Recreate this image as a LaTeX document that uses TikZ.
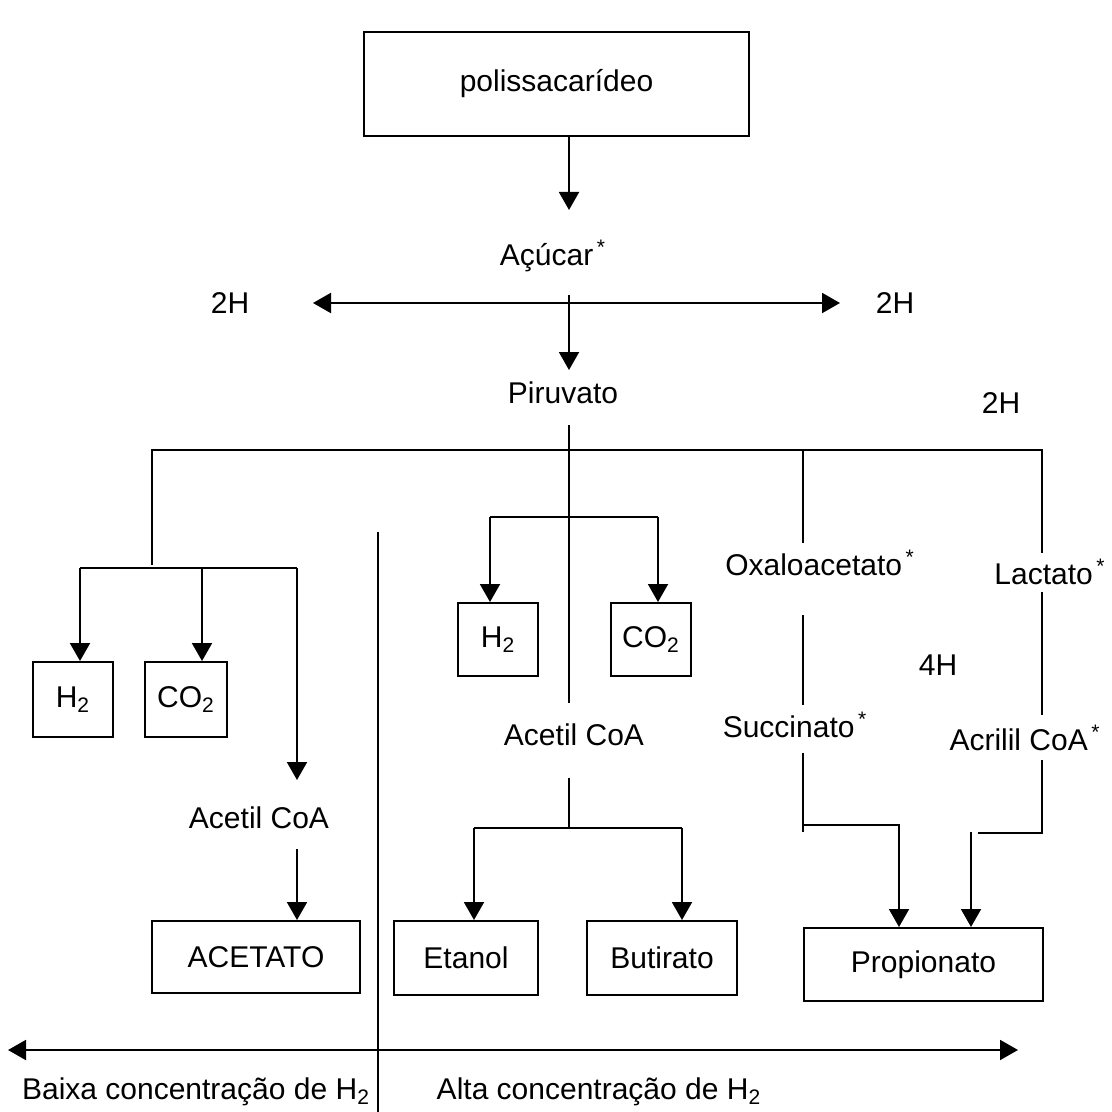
\documentclass[tikz,border=0pt]{standalone}
\usepackage{fontspec}
\setmainfont{Liberation Sans}
\usetikzlibrary{arrows.meta,positioning,calc}
\tikzset{
  box/.style={draw, line width=1pt, inner sep=0pt, font=\fontsize{15}{18}\selectfont},
  txt/.style={inner sep=1pt, font=\fontsize{15}{18}\selectfont},
  wire/.style={line width=1pt},
  arr/.style={wire, -{Triangle[width=10pt,length=9pt]}},
  darr/.style={wire, {Triangle[width=10pt,length=9pt]}-{Triangle[width=10pt,length=9pt]}},
}
\newcommand{\st}{\textsuperscript{\,*}}

\begin{document}
\begin{tikzpicture}[x=0.5pt,y=-0.5pt]
  \useasboundingbox[fill=white] (0,0) rectangle (1112,1112);
  % boxes
  \node[box, minimum width=192.5pt, minimum height=52pt] (polis) at (556.5,84) {polissacarídeo};
  \node[box, minimum width=40pt, minimum height=37.5pt] (h2a) at (73,699.5) {H\textsubscript{2}};
  \node[box, minimum width=41pt, minimum height=37.5pt] (co2a) at (186,699.5) {CO\textsubscript{2}};
  \node[box, minimum width=40pt, minimum height=36.5pt] (h2b) at (498,639.5) {H\textsubscript{2}};
  \node[box, minimum width=40pt, minimum height=36.5pt] (co2b) at (651,639.5) {CO\textsubscript{2}};
  \node[box, minimum width=104pt, minimum height=36pt] (acetato) at (256,957) {ACETATO};
  \node[box, minimum width=72pt, minimum height=37pt] (etanol) at (466,958) {Etanol};
  \node[box, minimum width=75pt, minimum height=37pt] (butirato) at (662,958) {Butirato};
  \node[box, minimum width=119.5pt, minimum height=36.5pt] (propionato) at (923.5,964.5) {Propionato};
  % labels
  \node[txt] (acucar) at (553,256) {Açúcar\st};
  \node[txt] (twoHL) at (230,303) {2H};
  \node[txt] (twoHR) at (895,303) {2H};
  \node[txt] (piruvato) at (563,393) {Piruvato};
  \node[txt] (twoHC) at (1001,403) {2H};
  \node[txt] (acetilL) at (259,818) {Acetil CoA};
  \node[txt] (acetilM) at (574,735) {Acetil CoA};
  \node[txt] (oxalo) at (820,563) {Oxaloacetato\st};
  \node[txt] (lactato) at (1050,572) {Lactato\st};
  \node[txt] (fourH) at (938,665) {4H};
  \node[txt] (succinato) at (795,725) {Succinato\st};
  \node[txt] (acrilil) at (1025,738) {Acrilil CoA\st};
  \node[txt] (baixa) at (196,1092) {Baixa concentração de H\textsubscript{2}};
  \node[txt] (alta) at (599,1092) {Alta concentração de H\textsubscript{2}};
  % main trunk
  \draw[arr] (polis.south -| 569,0) -- (569,210);
  \draw[arr] (569,295) -- (569,370);
  \draw[darr] (313,303) -- (840,303);
  \draw[wire] (569,425) -- (569,703);
  % pyruvate branches
  \draw[wire] (152,565) -- (152,450) -- (1042,450) -- (1042,553);
  \draw[wire] (803,450) -- (803,543);
  % low H2 side
  \draw[wire] (80,568) -- (297,568);
  \draw[arr] (80,568) -- (h2a.north -| 80,0);
  \draw[arr] (202,568) -- (co2a.north -| 202,0);
  \draw[arr] (297,568) -- (297,780);
  \draw[arr] (297,849) -- (acetato.north -| 297,0);
  % high H2 side
  \draw[wire] (490,517) -- (658,517);
  \draw[arr] (490,517) -- (h2b.north -| 490,0);
  \draw[arr] (658,517) -- (co2b.north -| 658,0);
  \draw[wire] (569,778) -- (569,828);
  \draw[wire] (474,828) -- (682,828);
  \draw[arr] (474,828) -- (etanol.north -| 474,0);
  \draw[arr] (682,828) -- (butirato.north -| 682,0);
  % propionate routes
  \draw[wire] (803,615) -- (803,705);
  \draw[wire] (803,753) -- (803,832);
  \draw[arr] (803,825) -| (propionato.north -| 899,0);
  \draw[wire] (1042,592) -- (1042,715);
  \draw[wire] (1042,760) -- (1042,833) -- (978,833);
  \draw[arr] (971,832) -- (propionato.north -| 971,0);
  % H2 axis
  \draw[darr] (8,1050) -- (1018,1050);
  \draw[wire] (378,532) -- (378,1112);
\end{tikzpicture}
\end{document}
